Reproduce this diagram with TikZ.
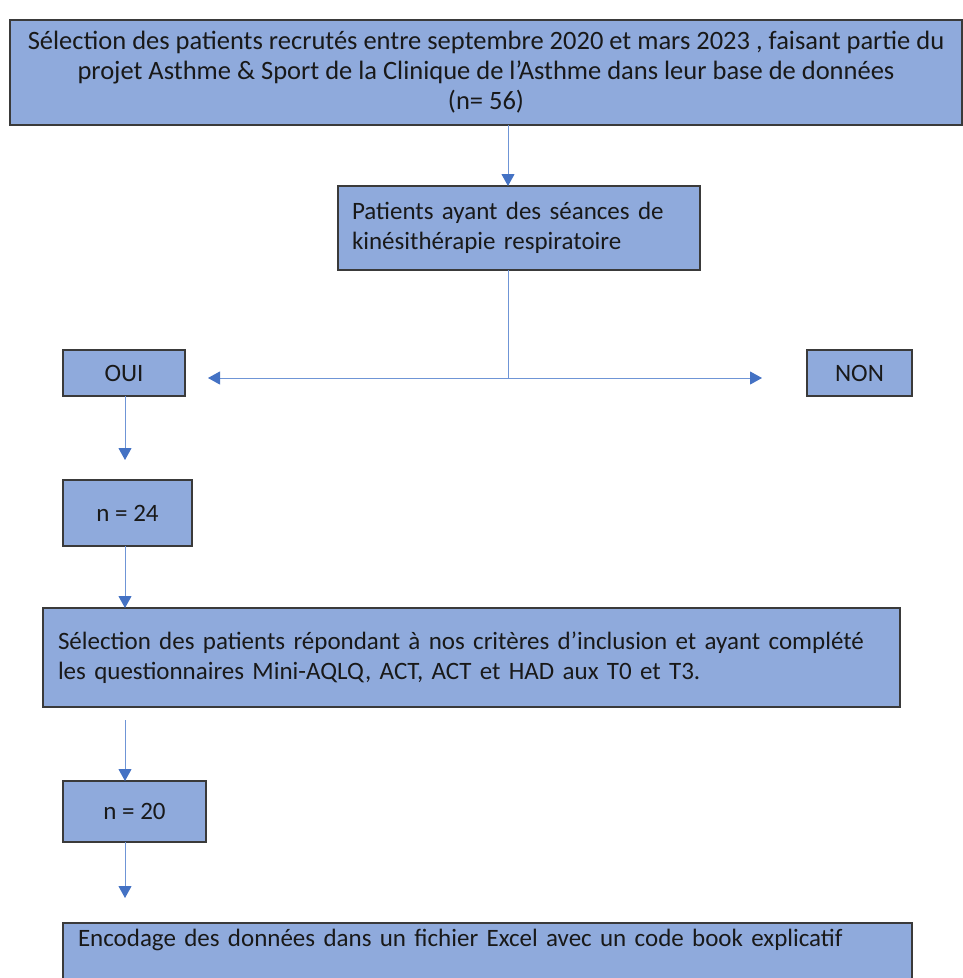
\documentclass[tikz,border=0pt]{standalone}
\usepackage{fontspec}
\setmainfont{Carlito}
\usetikzlibrary{arrows.meta}
\definecolor{boxfill}{HTML}{8FAADC}
\definecolor{boxline}{HTML}{3A3A3A}
\definecolor{arrline}{HTML}{6F95D6}
\definecolor{arrtip}{HTML}{4472C4}
\tikzset{
  box/.style={draw=boxline, fill=boxfill, line width=1.2pt, anchor=north west,
    font=\fontsize{25}{30}\selectfont, text=black!90, inner ysep=0pt, outer sep=0pt},
  conn/.style={draw=arrline, line width=1pt},
  tipped/.style={conn, -{Triangle[length=12pt,width=13pt,fill=arrtip,color=arrtip]}}
}
\begin{document}
\begin{tikzpicture}[x=1pt,y=-1pt]
\useasboundingbox[fill=white] (0,0) rectangle (962,978);
\node[box, minimum width=952pt, minimum height=105pt, align=center, inner xsep=0pt,
  font=\fontsize{26.5}{30}\selectfont] (top) at (10,20)
  {Sélection des patients recrutés entre septembre 2020 et mars 2023 , faisant partie du\\
   projet Asthme \& Sport de la Clinique de l’Asthme dans leur base de données\\(n= 56)};
\node[box, text width=334pt, inner xsep=14pt, minimum height=84pt, align=left] (kine) at (338,186)
  {Patients ayant des séances de\\kinésithérapie respiratoire};
\node[box, minimum width=122pt, minimum height=46pt, inner xsep=0pt] (oui) at (63,350) {OUI};
\node[box, minimum width=105pt, minimum height=46pt, inner xsep=0pt] (non) at (807,350) {NON};
\node[box, minimum width=129pt, minimum height=66pt, inner xsep=0pt] (n24) at (63,480) {n = 24};
\node[box, text width=827pt, inner xsep=15pt, minimum height=99pt, align=left] (crit) at (43,608)
  {Sélection des patients répondant à nos critères d’inclusion et ayant complété\\
   les questionnaires Mini-AQLQ, ACT, ACT et HAD aux T0 et T3.\\[2pt]};
\node[box, minimum width=143pt, minimum height=61pt, inner xsep=0pt] (n20) at (63,781) {n = 20};
\node[box, text width=819pt, inner xsep=15pt, minimum height=70pt, align=left, text depth=40pt] (enc) at (63,923)
  {Encodage des données dans un fichier Excel avec un code book explicatif};
% connectors
\coordinate (stem) at (508,0);
\coordinate (split) at (508,378);
\coordinate (leftend) at (208,378);
\coordinate (rightend) at (762,378);
\coordinate (a3end) at (125,460);
\coordinate (a5start) at (125,720);
\coordinate (a6end) at (125,898);
\draw[tipped] (top.south -| stem) -- (kine.north -| stem);
\draw[conn] (kine.south -| stem) -- (split);
\draw[tipped] (split) -- (leftend);
\draw[tipped] (split) -- (rightend);
\draw[tipped] (oui.south -| a3end) -- (a3end);
\draw[tipped] (n24.south -| a3end) -- (crit.north -| a3end);
\draw[tipped] (a5start) -- (n20.north -| a5start);
\draw[tipped] (n20.south -| a6end) -- (a6end);
\end{tikzpicture}
\end{document}
